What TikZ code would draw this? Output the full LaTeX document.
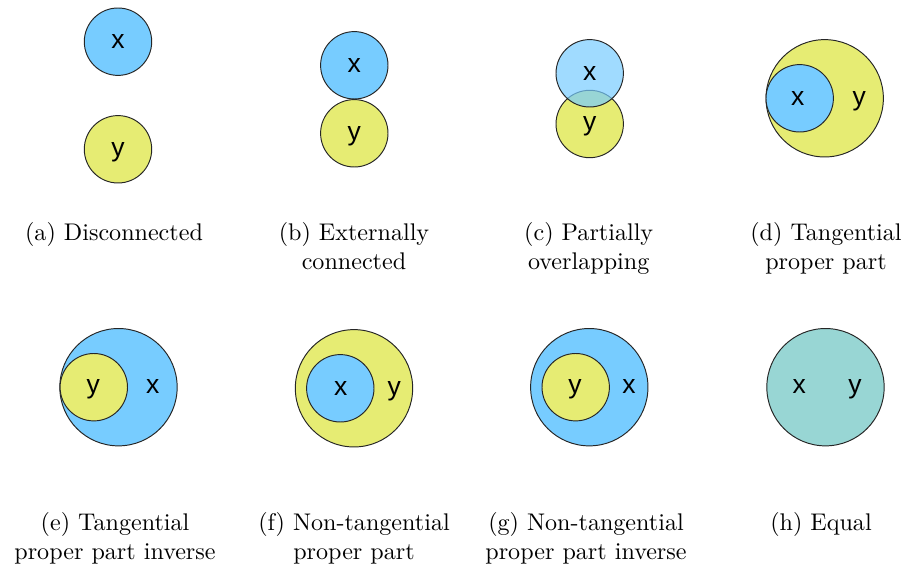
\documentclass[tikz,border=0pt]{standalone}
\usepackage{fontspec}
\newfontfamily\lblfont{Liberation Sans}
\definecolor{blueC}{HTML}{77CCFF}
\definecolor{yellowC}{HTML}{E6EC73}
\definecolor{tealC}{HTML}{98D6D4}
\tikzset{
  blob/.style={circle, draw=black!85, line width=0.4pt, inner sep=0pt},
  small/.style={blob, minimum size=27.97pt},
  big/.style={blob, minimum size=48.7pt},
  lbl/.style={font=\lblfont\fontsize{11}{13}\selectfont, inner sep=0pt, anchor=base, yshift=-2.8pt},
  captext/.style={anchor=base, inner sep=0pt}
}
\begin{document}
\begin{tikzpicture}[x=0.415pt, y=-0.415pt]
\useasboundingbox (0,0) rectangle (905,567);
% (a)
\node[small, fill=blueC] (ax) at (118,41.7) {};
\node[small, fill=yellowC] (ay) at (118,149.3) {};
\node[lbl] (axl) at (ax) {x};
\node[lbl] (ayl) at (ay) {y};
\node[captext] (capa) at (114,241) {(a) Disconnected};
% (b)
\node[small, fill=blueC] (bx) at (354.3,65.3) {};
\node[small, fill=yellowC] (by) at (354.3,133.3) {};
\node[lbl] (bxl) at (bx) {x};
\node[lbl] (byl) at (by) {y};
\node[captext] (capb1) at (354,241) {(b) Externally};
\node[captext] (capb2) at (354,270) {connected};
% (c)
\node[small, fill=yellowC] (cy) at (589.7,124) {};
\node[small, fill=blueC, fill opacity=0.7] (cx) at (589.7,73.3) {};
\node[lbl] (cxl) at (cx) {x};
\node[lbl] (cyl) at (cy) {y};
\node[captext] (capc1) at (588.7,241) {(c) Partially};
\node[captext] (capc2) at (588.7,270) {overlapping};
% (d)
\node[big, fill=yellowC] (dy) at (824.7,98.3) {};
\node[small, fill=blueC] (dx) at (799.7,98.3) {};
\node[lbl] (dxl) at (797.7,98.3) {x};
\node[lbl] (dyl) at (859.3,98.3) {y};
\node[captext] (capd1) at (826,241) {(d) Tangential};
\node[captext] (capd2) at (826,270) {proper part};
% (e)
\node[big, fill=blueC] (ex) at (118.5,387.2) {};
\node[small, fill=yellowC] (ey) at (93.8,387.2) {};
\node[lbl] (eyl) at (93.3,387.2) {y};
\node[lbl] (exl) at (152.7,387.2) {x};
\node[captext] (cape1) at (115,531) {(e) Tangential};
\node[captext] (cape2) at (115,559.5) {proper part inverse};
% (f)
\node[big, fill=yellowC] (fy) at (354,388.3) {};
\node[small, fill=blueC] (fx) at (340.3,388.3) {};
\node[lbl] (fxl) at (340.7,388.3) {x};
\node[lbl] (fyl) at (394.3,388.3) {y};
\node[captext] (capf1) at (354,531) {(f) Non-tangential};
\node[captext] (capf2) at (354,559.5) {proper part};
% (g)
\node[big, fill=blueC] (gx) at (589.3,387.2) {};
\node[small, fill=yellowC] (gy) at (575.7,387.2) {};
\node[lbl] (gyl) at (575,387.2) {y};
\node[lbl] (gxl) at (629,387.2) {x};
\node[captext] (capg1) at (586,531) {(g) Non-tangential};
\node[captext] (capg2) at (586,559.5) {proper part inverse};
% (h)
\node[big, fill=tealC] (hxy) at (825.5,387.2) {};
\node[lbl] (hxl) at (799.3,387.2) {x};
\node[lbl] (hyl) at (855,387.2) {y};
\node[captext] (caph) at (821,531) {(h) Equal};
\end{tikzpicture}
\end{document}
